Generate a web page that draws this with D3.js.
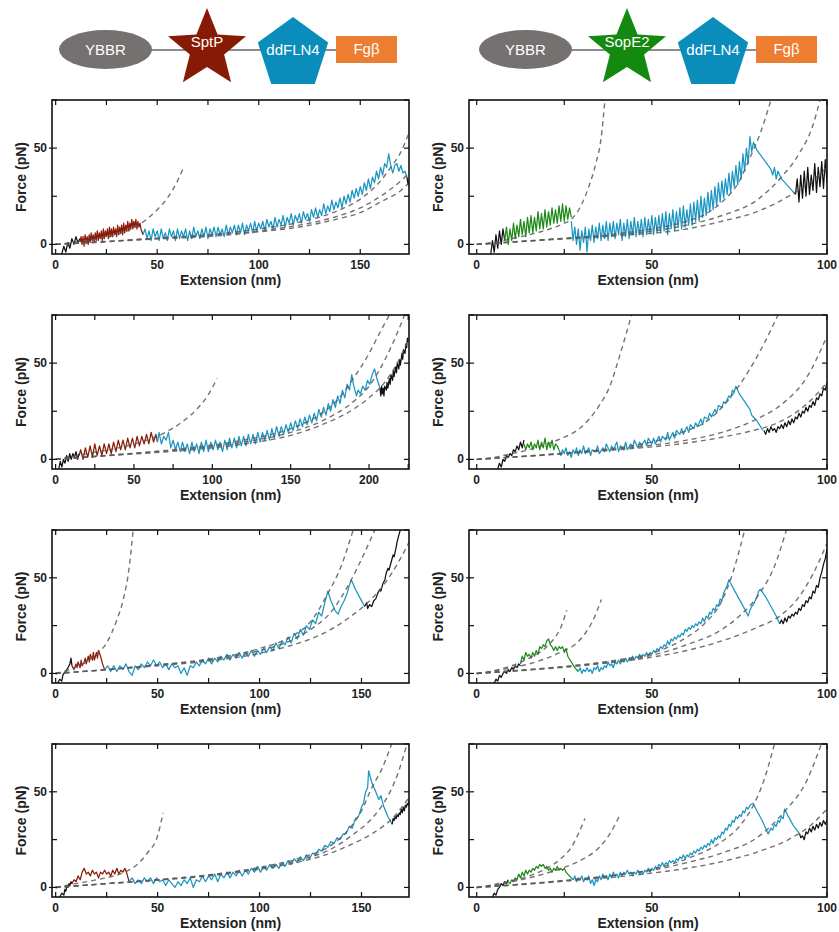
<!DOCTYPE html>
<html>
<head>
<meta charset="utf-8">
<script src="https://cdn.jsdelivr.net/npm/d3@7"></script>
<style>
  body { margin: 0; background: #fff; }
  svg { display: block; font-family: "Liberation Sans", Arial, sans-serif; }
</style>
</head>
<body>
<div id="chart"></div>
<script>
// ---- tick labels ----
const xTicksNarrow = [0, 50, 100, 150];
const xTicksWide = [0, 50, 100, 150, 200];
const xTicksRight = [0, 50, 100];
const yTickLabels = [0, 50];

// ---- construct labels ----
const constructLeft = ['YBBR', 'SptP', 'ddFLN4', 'Fg\u03b2'];
const constructRight = ['YBBR', 'SopE2', 'ddFLN4', 'Fg\u03b2'];

// ================= SptP, row 1 =================
const a1Black = [[3,-5],[4,-1],[5,-4],[6,1],[7,-2],[8,3],[9,0],[10,4],[11,1],[12,3]];
const a1Red = [[12,1],[12.5,4],[13,0],[13.5,4],[14,-1],[14.5,5],[15,1],[15.5,4],[16,0],[16.5,5],[17,1],[17.5,6],[18,2],[18.5,5],[19,1],[19.5,6],[20,2],[20.5,7],[21,2],[21.5,6],[22,3],[22.5,7],[23,2],[23.5,8],[24,3],[24.5,7],[25,4],[25.5,8],[26,3],[26.5,9],[27,4],[27.5,8],[28,4],[28.5,9],[29,5],[29.5,8],[30,4],[30.5,10],[31,5],[31.5,9],[32,6],[32.5,10],[33,5],[33.5,11],[34,6],[34.5,10],[35,7],[35.5,12],[36,7],[36.5,11],[37,8],[37.5,13],[38,8],[38.5,12],[39,9],[39.5,13],[40,8],[40.5,12],[41,9],[41.5,11],[42,8],[43,5]];
const a1Blue = [[43,5],[44,8],[45,3],[46,7],[47,2],[48,8],[49,4],[50,7],[51,2],[52,8],[53,3],[54,6],[55,2],[56,8],[57,4],[58,7],[59,2],[60,8],[61,3],[62,7],[63,4],[64,8],[65,2],[66,7],[67,3],[68,9],[69,4],[70,7],[71,3],[72,8],[73,4],[74,9],[75,3],[76,8],[77,5],[78,9],[79,4],[80,9],[81,5],[82,8],[83,4],[84,10],[85,5],[86,9],[87,6],[88,10],[89,5],[90,10],[91,6],[92,11],[93,5],[94,10],[95,7],[96,11],[97,6],[98,12],[99,7],[100,11],[101,8],[102,12],[103,7],[104,13],[105,9],[106,12],[107,8],[108,14],[109,9],[110,13],[111,10],[112,15],[113,9],[114,14],[115,11],[116,16],[117,10],[118,15],[119,12],[120,16],[121,11],[122,17],[123,13],[124,16],[125,12],[126,18],[127,14],[128,19],[129,14],[130,18],[131,15],[132,21],[133,16],[134,20],[135,17],[136,23],[137,18],[138,22],[139,19],[140,24],[141,19],[142,25],[143,21],[144,26],[145,22],[146,28],[147,24],[148,29],[149,25],[150,30],[151,26],[152,32],[153,28],[154,34],[155,29],[156,35],[157,32],[158,38],[159,34],[160,40],[161,36],[162,42],[163,40],[164,47],[165,41],[166,37],[167,41],[168,42],[169,38],[170,41],[171,37],[172,38],[173,35]];
const a1Tail = [[173,35],[173.5,31],[174,33]];
const a1Fits = [
  [[0,0],[10,1.2],[20,2.8],[30,5],[40,9.5],[50,18],[55,24],[60,33],[63,40]],
  [[0,0],[20,1],[40,2.5],[60,4],[80,5.5],[100,8],[120,11.5],[140,18],[150,23.5],[160,33],[165,40],[170,48],[174,58]],
  [[0,0],[40,2.5],[80,5],[100,7],[120,10],[140,15],[150,19],[160,25],[170,33],[174,37]],
  [[0,0],[40,2.3],[80,4.5],[100,6.5],[120,9],[140,13.5],[150,16.5],[160,22],[170,28],[174,32]]
];

// ================= SptP, row 2 =================
const a2Black = [[2,-5],[3,-1],[4,-4],[5,0],[6,-2],[7,2],[8,-1],[9,3],[10,0],[11,3],[12,1],[13,4],[14,0],[15,3]];
const a2Red = [[15,2],[16,5],[17.5,0],[19,6],[20.5,1],[22,7],[23.5,1],[25,8],[26.5,2],[28,7],[29.5,2],[31,8],[32.5,3],[34,8],[35.5,3],[37,9],[38.5,4],[40,10],[41.5,5],[43,10],[44.5,5],[46,11],[47.5,6],[49,11],[50.5,6],[52,12],[53.5,7],[55,12],[56.5,8],[58,13],[59.5,8],[61,14],[62.5,9],[64,13],[65,9]];
const a2Blue = [[65,9],[66,14],[67.5,8],[69,12],[70.5,10],[72,14],[73.5,6],[75,10],[76.5,5],[78,9],[79.5,4],[81,9],[82.5,4],[84,8],[85.5,3],[87,9],[88.5,4],[90,8],[91.5,3],[93,9],[94.5,4],[96,10],[97.5,4],[99,9],[100.5,5],[102,10],[103.5,5],[105,9],[106.5,4],[108,10],[109.5,5],[111,11],[112.5,6],[114,11],[115.5,6],[117,12],[118.5,7],[120,12],[121.5,7],[123,13],[124.5,8],[126,13],[127.5,8],[129,14],[130.5,9],[132,14],[133.5,10],[135,15],[136.5,10],[138,16],[139.5,11],[141,17],[142.5,12],[144,17],[145.5,13],[147,18],[148.5,14],[150,19],[151.5,15],[153,20],[154.5,16],[156,21],[157.5,17],[159,22],[160.5,18],[162,23],[163.5,19],[165,24],[166.5,20],[168,26],[169.5,22],[171,27],[172.5,23],[174,29],[175.5,25],[177,31],[178.5,27],[180,33],[181.5,29],[183,36],[184.5,32],[186,39],[187.5,36],[189,44],[190,39],[192,33],[193,36],[194.5,34],[196,38],[197.5,36],[199,41],[200.5,39],[202,44],[203.5,47],[205,42],[207,37]];
const a2Tail = [[207,37],[207.5,33],[208,38],[208.5,34],[209,37],[209.5,33],[210,38],[211,36],[211.5,40],[212,37],[213,42],[213.5,39],[214,44],[215,41],[215.5,46],[216,43],[217,48],[217.5,45],[218,50],[219,47],[219.5,52],[220,49],[221,55],[221.5,52],[222,57],[223,55],[223.5,60],[224,58],[224.5,63],[225,61]];
const a2Fits = [
  [[0,0],[20,3],[40,6],[60,10.5],[70,14],[80,19],[90,26],[97,33],[103,42]],
  [[0,0],[40,2.5],[80,5.5],[120,10],[150,16],[170,24],[180,31],[190,42],[200,55],[207,66],[213,75]],
  [[0,0],[40,2.5],[80,5],[120,9],[150,14],[170,20],[190,30],[200,38],[207,47],[215,60],[222.7,75]],
  [[0,0],[40,2.3],[80,4.5],[120,8],[150,12.5],[170,18],[190,26],[200,32],[210,40],[218,50],[225,62]]
];

// ================= SptP, row 3 =================
const a3Black = [[1,-5],[2,-3],[3,-4],[3.5,-1],[4,0],[5,1],[6,3],[7,5],[7.5,8],[8,4]];
const a3Red = [[8,4],[9,2],[10,5],[10.5,3],[11,6],[12,3],[12.5,7],[13,4],[14,6],[14.5,8],[15,5],[16,9],[16.5,6],[17,10],[18,7],[18.5,11],[19,7],[20,11],[20.5,8],[21,12],[22,9],[23,5],[24,2]];
const a3Blue = [[24,2],[25.5,4],[27,1],[28.5,4],[30,1],[31.5,4],[33,2],[34.5,5],[36,1],[37.5,-1],[39,4],[40.5,2],[42,5],[43.5,3],[45,6],[46.5,4],[48,7],[49.5,4],[51,6],[52.5,3],[54,5],[55.5,2],[57,5],[58.5,3],[60,4],[61.5,0],[63,3],[64.5,-1],[66,4],[67.5,3],[69,6],[70.5,4],[72,7],[73.5,5],[75,8],[76.5,5],[78,8],[79.5,6],[81,9],[82.5,7],[84,10],[85.5,7],[87,10],[88.5,8],[90,11],[91.5,8],[93,11],[94.5,9],[96,12],[97.5,9],[99,12],[100.5,10],[102,13],[103.5,11],[105,14],[106.5,12],[108,16],[109.5,13],[111,17],[112.5,15],[114,19],[115.5,16],[117,21],[118.5,18],[120,23],[121.5,20],[123,25],[124.5,23],[126,28],[127.5,26],[129,32],[130.5,30],[132,37],[133.5,43],[135,38],[137,33],[138.5,31],[140,35],[141.5,38],[143,42],[144,46],[145,49],[147,44],[149.5,39],[151.5,35]];
const a3Tail = [[151.5,35],[152.5,37],[153,34],[154,36],[155,35],[156,38],[157,39],[158,42],[159,44],[159.5,43],[160.5,47],[161.5,49],[162,52],[163,55],[163.5,54],[164.5,58],[165.5,62],[166,61],[167,66],[167.5,69],[168,71],[168.5,73],[169,75]];
const a3Fits = [
  [[0,0],[5,1.5],[10,3.5],[15,6],[20,10],[25,16],[30,28],[33,38],[36,55],[38,75]],
  [[0,0],[25,2],[50,4.5],[75,7.5],[100,13],[115,19],[125,27],[133.6,42],[140,56],[145.9,75]],
  [[0,0],[25,2],[50,4.5],[75,7],[100,12],[115,17],[125,23],[135,32],[145,49],[151,62],[156.5,75]],
  [[0,0],[25,2],[50,4],[75,6.5],[100,10.5],[115,14.5],[125,18],[135,23],[145,30],[152,36],[160,45],[168,58],[174,70]]
];

// ================= SptP, row 4 =================
const a4Black = [[2,-5],[3,-3],[4,-4],[4.5,-1],[5,-2],[5.5,1],[6,0],[6.5,2],[7,1],[7.5,3],[8,2]];
const a4Red = [[8,2],[9,4],[10,3],[11,6],[12,4],[13,8],[14,10],[15,7],[16,8],[17,6],[18,9],[19,7],[20,8],[21,5],[22,8],[23,7],[24,9],[25,7],[26,8],[27,6],[28,9],[29,7],[30,10],[31,7],[32,9],[33,8],[34,10],[35,7],[36,3]];
const a4Blue = [[36,3],[37.5,5],[39,2],[40.5,4],[42,2],[43.5,5],[45,3],[46.5,5],[48,2],[49.5,5],[51,3],[52.5,4],[54,1],[55.5,4],[57,2],[58.5,0],[60,3],[61.5,1],[63,4],[64.5,2],[66,5],[67.5,0],[69,4],[70.5,3],[72,6],[73.5,3],[75,6],[76.5,4],[78,7],[79.5,3],[81,7],[82.5,5],[84,8],[85.5,5],[87,8],[88.5,6],[90,9],[91.5,6],[93,9],[94.5,7],[96,10],[97.5,8],[99,11],[100.5,8],[102,11],[103.5,9],[105,12],[106.5,10],[108,12],[109.5,10],[111,13],[112.5,11],[114,14],[115.5,12],[117,15],[118.5,13],[120,16],[121.5,14],[123,17],[124.5,15],[126,18],[127.5,17],[129,20],[130.5,19],[132,22],[133.5,21],[135,24],[136.5,23],[138,26],[139.5,25],[141,28],[142.5,28],[144,32],[145.5,31],[147,36],[148.5,37],[150,42],[151,44],[152,50],[153,52],[153.5,61],[155,55],[157,50],[158.5,46],[159.5,48],[161,42],[163,37],[165,33]];
const a4Tail = [[165,33],[165.5,36],[166,35],[166.5,37],[167,36],[167.5,38],[168,37],[168.5,39],[169,38],[169.5,41],[170,39],[170.5,42],[171,40],[171.5,43],[172,42],[172.5,44],[173,43],[173.5,46],[174,45]];
const a4Fits = [
  [[0,0],[10,2],[20,4],[30,6.5],[35,8.5],[40,12],[45,18],[50,27],[52.7,39]],
  [[0,0],[25,2],[50,4],[75,6.5],[100,10.5],[120,15.5],[135,22],[145,32],[150,40],[155,52],[160,62],[164.8,75]],
  [[0,0],[25,2],[50,4],[75,6.5],[100,10],[120,14.5],[135,20],[145,27],[155,36],[162,46],[168,60],[172.3,75]],
  [[0,0],[25,2],[50,3.8],[75,6],[100,9.5],[120,13.5],[135,18],[145,22.5],[155,28],[165,36],[174,48]]
];

// ================= SopE2, row 1 =================
const b1Black = [[4,-5],[4.5,2],[5,-4],[5.5,5],[6,-2],[6.5,7],[7,0],[7.5,8],[8,2]];
const b1Green = [[8,2],[8.5,9],[9,0],[9.5,8],[10,2],[10.5,11],[11,3],[11.5,10],[12,4],[12.5,13],[13,5],[13.5,12],[14,4],[14.5,14],[15,6],[15.5,15],[16,6],[16.5,14],[17,7],[17.5,17],[18,8],[18.5,16],[19,8],[19.5,18],[20,9],[20.5,17],[21,10],[21.5,19],[22,11],[22.5,18],[23,11],[23.5,20],[24,12],[24.5,21],[25,12],[25.5,20],[26,13],[26.5,19],[27,14]];
const b1Blue = [[27,12],[27.5,2],[28,9],[28.5,0],[29,8],[29.5,-3],[30,7],[30.5,1],[31,9],[31.5,-4],[32,8],[32.5,2],[33,10],[33.5,1],[34,9],[34.5,3],[35,11],[35.5,2],[36,10],[36.5,3],[37,12],[37.5,2],[38,11],[38.5,4],[39,12],[39.5,3],[40,11],[40.5,5],[41,13],[41.5,2],[42,11],[42.5,4],[43,13],[43.5,3],[44,12],[44.5,5],[45,14],[45.5,4],[46,12],[46.5,5],[47,13],[47.5,4],[48,14],[48.5,5],[49,13],[49.5,6],[50,15],[50.5,5],[51,14],[51.5,6],[52,15],[52.5,6],[53,16],[53.5,7],[54,17],[54.5,5],[55,16],[55.5,8],[56,18],[56.5,7],[57,17],[57.5,9],[58,19],[58.5,8],[59,20],[59.5,9],[60,18],[60.5,10],[61,21],[61.5,10],[62,22],[62.5,12],[63,23],[63.5,12],[64,25],[64.5,14],[65,24],[65.5,15],[66,27],[66.5,17],[67,28],[67.5,18],[68,30],[68.5,20],[69,32],[69.5,22],[70,33],[70.5,24],[71,34],[71.5,26],[72,37],[72.5,27],[73,38],[73.5,30],[74,41],[74.5,31],[75,43],[75.5,34],[76,47],[76.5,38],[77,50],[77.5,42],[78,56],[78.5,48],[79,53],[80,49],[82,44],[84,39],[84.5,36],[85,40],[85.5,34],[86,38],[87,34],[89,30],[91,26]];
const b1Tail = [[91,26],[91.5,34],[92,22],[92.5,36],[93,24],[93.5,38],[94,25],[94.5,40],[95,26],[95.5,36],[96,28],[96.5,42],[97,27],[97.5,40],[98,30],[98.5,43],[99,29],[99.5,44],[100,32]];
const b1Fits = [
  [[0,0],[5,1],[10,3],[15,5],[20,7.5],[25,11],[27,13],[30,21],[32,30],[34,42],[35.5,55],[36.6,75]],
  [[0,0],[20,2.5],[40,5.5],[50,8],[60,12],[65,15.5],[70,22],[75,33],[78,45],[81,58],[84,75]],
  [[0,0],[20,2.5],[40,5],[60,10],[70,15],[80,23],[87,35],[92,47],[96,62],[98,75]],
  [[0,0],[20,2.3],[40,4.5],[60,8],[70,12],[80,17],[90,26],[95,32],[100,40]]
];

// ================= SopE2, row 2 =================
const b2Black = [[6,-5],[6.5,-2],[7,-4],[7.5,0],[8,-1],[8.5,2],[9,1],[9.5,3],[10,2],[10.5,5],[11,4],[11.5,7],[12,5],[12.5,9],[13,6],[13.5,10]];
const b2Green = [[13.5,8],[14,5],[14.5,8],[15,6],[15.5,9],[16,5],[16.5,8],[17,6],[17.5,10],[18,5],[18.5,9],[19,6],[19.5,11],[20,5],[20.5,9],[21,6],[21.5,10],[22,5],[22.5,8],[23,7],[23.5,5]];
const b2Blue = [[23.5,5],[24,2],[24.5,5],[25,3],[25.5,6],[26,2],[26.5,4],[27,1],[27.5,5],[28,3],[28.5,6],[29,2],[29.5,5],[30,3],[30.5,7],[31,3],[32,6],[32.5,2],[33,5],[34,4],[34.5,7],[35,3],[36,6],[36.5,4],[37,8],[38,4],[38.5,7],[39,5],[40,9],[40.5,4],[41,7],[42,5],[42.5,9],[43,5],[44,8],[44.5,6],[45,10],[46,6],[46.5,9],[47,7],[48,10],[48.5,7],[49,11],[50,8],[50.5,11],[51,8],[52,12],[52.5,9],[53,12],[54,10],[54.5,14],[55,10],[56,14],[56.5,11],[57,15],[58,13],[58.5,16],[59,13],[60,17],[60.5,14],[61,18],[62,16],[62.5,19],[63,17],[64,21],[64.5,18],[65,22],[66,21],[66.5,24],[67,22],[68,26],[68.5,24],[69,28],[70,27],[70.5,30],[71,29],[72,33],[72.5,32],[73,36],[73.5,35],[74,38],[75,34],[76.5,30],[78,26],[78.5,23],[79,22],[80,20],[81.7,15]];
const b2Tail = [[82,15],[82.5,13],[83,16],[83.5,14],[84,17],[84.5,15],[85,16],[85.5,14],[86,17],[86.5,16],[87,18],[87.5,16],[88,19],[88.5,17],[89,20],[89.5,18],[90,21],[90.5,19],[91,22],[91.5,21],[92,24],[92.5,22],[93,25],[93.5,24],[94,27],[94.5,25],[95,28],[95.5,27],[96,30],[96.5,28],[97,32],[97.5,31],[98,34],[98.5,33],[99,37],[99.5,36],[100,40]];
const b2Fits = [
  [[0,0],[5,1],[10,3],[15,5],[20,8],[25,11.5],[30,17],[35,28],[38,38],[41,55],[44.2,75]],
  [[0,0],[20,2.5],[40,6],[50,9],[60,15],[65,19],[70,27],[74,36],[78,47],[82,60],[86,75]],
  [[0,0],[20,2.5],[40,5.5],[60,10],[70,14],[80,21],[88,30],[94,42],[100,64]],
  [[0,0],[20,2.3],[40,5],[60,8.5],[70,11.5],[80,15.5],[83,17],[90,23],[95,30],[100,40]]
];

// ================= SopE2, row 3 =================
const b3Black = [[5,-5],[5.5,-3],[6,-4],[6.5,-1],[7,-2],[7.5,0],[8,1],[8.5,0],[9,2],[9.5,1],[10,3],[10.5,2],[11,4],[11.5,3],[12,5],[12.5,4]];
const b3Green = [[12.5,5],[13,9],[13.5,7],[14,11],[14.5,9],[15,10],[15.5,8],[16,11],[16.5,9],[17,12],[17.5,10],[18,14],[18.5,13],[19,15],[19.5,14],[20,17],[20.5,18],[21,15],[21.5,14],[22,12],[22.5,14],[23,12],[23.5,14],[24,13],[24.5,14],[25,11],[25.5,13],[26,9],[27,6],[28,3],[29,1]];
const b3Blue = [[29,1],[29.5,3],[30,0],[30.5,2],[31,1],[31.5,3],[32,1],[32.5,2],[33,0],[33.5,3],[34,2],[34.5,4],[35,1],[35.5,3],[36,2],[36.5,4],[37,3],[37.5,6],[38,4],[38.5,5],[39,3],[39.5,6],[40,5],[40.5,7],[41,5],[41.5,7],[42,6],[42.5,8],[43,6],[43.5,8],[44,7],[44.5,9],[45,7],[45.5,9],[46,8],[46.5,10],[47,8],[47.5,10],[48,9],[48.5,11],[49,9],[49.5,11],[50,10],[50.5,12],[51,11],[51.5,13],[52,12],[52.5,14],[53,13],[53.5,15],[54,14],[54.5,17],[55,15],[55.5,18],[56,17],[56.5,19],[57,18],[57.5,20],[58,19],[58.5,21],[59,20],[59.5,23],[60,22],[60.5,24],[61,23],[61.5,25],[62,24],[62.5,26],[63,25],[63.5,27],[64,26],[64.5,29],[65,27],[65.5,30],[66,29],[66.5,32],[67,31],[67.5,34],[68,33],[68.5,36],[69,35],[69.5,39],[70,38],[70.5,42],[71,44],[71.5,46],[72,49],[72.5,47],[74,42],[75.5,37],[77,32],[77.5,30],[78,33],[78.5,35],[79,36],[79.5,38],[80,40],[80.5,43],[81,44],[82.5,40],[84,35],[85.5,30],[86.5,26]];
const b3Tail = [[86.5,26],[87,28],[87.5,26],[88,29],[88.5,27],[89,30],[89.5,29],[90,31],[90.5,30],[91,32],[91.5,31],[92,34],[92.5,33],[93,36],[93.5,35],[94,38],[94.5,37],[95,40],[95.5,39],[96,43],[96.5,42],[97,46],[97.5,45],[98,50],[98.5,53],[99,57],[99.5,60],[100,65]];
const b3Fits = [
  [[0,0],[5,1.5],[10,4],[15,8],[18,11],[20,14],[22,18],[24,24],[25.7,33]],
  [[0,0],[5,1.2],[10,3],[15,5],[20,8],[25,12],[28,15],[31,21],[33,27],[35.6,38.7]],
  [[0,0],[15,2],[30,4.5],[40,7],[50,10.5],[55,14],[60,19],[65,26],[70,38],[73,52],[76.5,75]],
  [[0,0],[15,2],[30,4.5],[40,6.5],[50,9.5],[60,15],[70,23],[75,30],[80.8,42],[85,56],[88.4,75]],
  [[0,0],[15,1.8],[30,4],[40,6],[50,8.5],[60,12],[70,17],[80,24],[86.5,30],[92,40],[96,52],[100,68]]
];

// ================= SopE2, row 4 =================
const b4Black = [[4.5,-5],[5,-3],[5.5,-4],[6,-1],[6.5,0],[7,2],[7.5,1],[8,3],[8.5,2],[9,4]];
const b4Green = [[9,3],[9.5,2],[10,4],[10.5,3],[11,5],[11.5,4],[12,7],[12.5,5],[13,8],[13.5,6],[14,9],[14.5,7],[15,9],[15.5,8],[16,10],[16.5,9],[17,11],[17.5,10],[18,12],[18.5,11],[19,12],[19.5,10],[20,11],[20.5,9],[21,10],[21.5,8],[22,10],[22.5,9],[23,11],[23.5,9],[24,10],[24.5,9],[25,10],[25.5,8],[26,7],[27,5],[27.6,4]];
const b4Blue = [[27.6,4],[28,6],[28.5,3],[29,5],[29.5,4],[30,6],[30.5,3],[31,5],[31.5,4],[32,6],[32.5,2],[33,4],[33.5,1],[34,4],[34.5,3],[35,6],[35.5,4],[36,7],[36.5,5],[37,6],[37.5,4],[38,7],[38.5,5],[39,8],[39.5,6],[40,7],[40.5,5],[41,8],[41.5,6],[42,8],[42.5,7],[43,9],[43.5,7],[44,8],[44.5,6],[45,8],[45.5,7],[46,9],[46.5,7],[47,8],[47.5,7],[48,9],[48.5,8],[49,10],[49.5,8],[50,10],[50.5,9],[51,11],[51.5,10],[52,12],[52.5,11],[53,13],[53.5,11],[54,13],[54.5,12],[55,14],[55.5,13],[56,14],[56.5,13],[57,15],[57.5,14],[58,16],[58.5,15],[59,17],[59.5,15],[60,17],[60.5,16],[61,18],[61.5,17],[62,19],[62.5,18],[63,20],[63.5,19],[64,21],[64.5,20],[65,22],[65.5,21],[66,23],[66.5,22],[67,25],[67.5,23],[68,26],[68.5,25],[69,27],[69.5,26],[70,29],[70.5,28],[71,31],[71.5,30],[72,33],[72.5,32],[73,35],[73.5,34],[74,37],[74.5,36],[75,38],[75.5,37],[76,40],[76.5,39],[77,42],[77.5,41],[78,43],[78.9,44],[80,40],[81.5,35],[83.2,28],[84,31],[84.5,30],[85,33],[85.5,32],[86,35],[86.5,34],[87,37],[87.5,36],[87.9,41],[89,37],[90.5,32],[92.2,28]];
const b4Tail = [[92.2,28],[92.5,26],[93,27],[93.5,25],[94,29],[94.5,28],[95,31],[95.5,29],[96,32],[96.5,30],[97,33],[97.5,31],[98,34],[98.5,32],[99,35],[99.5,33],[100,35]];
const b4Fits = [
  [[0,0],[5,1.5],[10,3.5],[15,6],[20,10],[24,15],[27,21],[29,28],[30.9,36]],
  [[0,0],[5,1.2],[10,3],[15,5],[20,7.5],[25,10.5],[30,14.5],[35,21],[38,28],[40.9,38]],
  [[0,0],[15,2],[30,4.5],[40,6.5],[50,9.5],[60,15],[70,24],[75,32],[79,43],[82,56],[85,75]],
  [[0,0],[15,2],[30,4.5],[40,6.5],[50,9],[60,13],[70,18],[80,26],[88,40],[94,55],[98.4,75]],
  [[0,0],[15,1.8],[30,4],[40,5.5],[50,7.5],[60,10],[70,13.5],[80,18.5],[90,26],[95,32],[100,41]]
];

// ---------------- drawing ----------------
const colors = {
  black: '#111111',
  red: '#8b1a08',
  green: '#1d8a17',
  blue: '#1b96c3',
  fit: '#5a5a5a'
};

const width = 839, height = 932;
const svg = d3.select('#chart').append('svg')
  .attr('width', width)
  .attr('height', height);

const leftX = [52, 409];
const rightX = [469, 827];
const rowY = [[100, 254], [315, 469], [530, 683], [744, 897]];

const panels = [
  { id: 'a1', xr: leftX, yr: rowY[0], dom: [-1.8, 174], ticks: xTicksNarrow, mid: a1Red, midColor: colors.red, head: a1Black, blue: a1Blue, tail: a1Tail, fits: a1Fits },
  { id: 'a2', xr: leftX, yr: rowY[1], dom: [-2.3, 225.5], ticks: xTicksWide, mid: a2Red, midColor: colors.red, head: a2Black, blue: a2Blue, tail: a2Tail, fits: a2Fits },
  { id: 'a3', xr: leftX, yr: rowY[2], dom: [-1.8, 173.3], ticks: xTicksNarrow, mid: a3Red, midColor: colors.red, head: a3Black, blue: a3Blue, tail: a3Tail, fits: a3Fits },
  { id: 'a4', xr: leftX, yr: rowY[3], dom: [-1.8, 173.3], ticks: xTicksNarrow, mid: a4Red, midColor: colors.red, head: a4Black, blue: a4Blue, tail: a4Tail, fits: a4Fits },
  { id: 'b1', xr: rightX, yr: rowY[0], dom: [-2.2, 100], ticks: xTicksRight, mid: b1Green, midColor: colors.green, head: b1Black, blue: b1Blue, tail: b1Tail, fits: b1Fits },
  { id: 'b2', xr: rightX, yr: rowY[1], dom: [-2.2, 100], ticks: xTicksRight, mid: b2Green, midColor: colors.green, head: b2Black, blue: b2Blue, tail: b2Tail, fits: b2Fits },
  { id: 'b3', xr: rightX, yr: rowY[2], dom: [-2.2, 100], ticks: xTicksRight, mid: b3Green, midColor: colors.green, head: b3Black, blue: b3Blue, tail: b3Tail, fits: b3Fits },
  { id: 'b4', xr: rightX, yr: rowY[3], dom: [-2.2, 100], ticks: xTicksRight, mid: b4Green, midColor: colors.green, head: b4Black, blue: b4Blue, tail: b4Tail, fits: b4Fits }
];

function drawPanel(p) {
  const x = d3.scaleLinear().domain(p.dom).range(p.xr);
  const y = d3.scaleLinear().domain([-5, 75]).range([p.yr[1], p.yr[0]]);
  const g = svg.append('g').attr('class', 'panel ' + p.id);

  g.append('clipPath').attr('id', 'clip-' + p.id)
    .append('rect')
    .attr('x', p.xr[0]).attr('y', p.yr[0])
    .attr('width', p.xr[1] - p.xr[0]).attr('height', p.yr[1] - p.yr[0]);

  const plot = g.append('g').attr('clip-path', `url(#clip-${p.id})`);

  const trace = d3.line().x(d => x(d[0])).y(d => y(d[1]));
  const smooth = d3.line().x(d => x(d[0])).y(d => y(d[1])).curve(d3.curveMonotoneX);

  // force traces
  [[p.head, colors.black], [p.mid, p.midColor], [p.blue, colors.blue], [p.tail, colors.black]]
    .forEach(([pts, c]) => {
      plot.append('path')
        .attr('d', trace(pts))
        .attr('fill', 'none')
        .attr('stroke', c)
        .attr('stroke-width', 1.25)
        .attr('stroke-linejoin', 'round');
    });

  // WLC fits (dashed, drawn over the data)
  p.fits.forEach(f => {
    plot.append('path')
      .attr('d', smooth(f))
      .attr('fill', 'none')
      .attr('stroke', colors.fit)
      .attr('stroke-opacity', 0.85)
      .attr('stroke-width', 1.4)
      .attr('stroke-dasharray', '5,4');
  });

  // frame
  g.append('rect')
    .attr('x', p.xr[0]).attr('y', p.yr[0])
    .attr('width', p.xr[1] - p.xr[0]).attr('height', p.yr[1] - p.yr[0])
    .attr('fill', 'none').attr('stroke', '#111').attr('stroke-width', 1.6);

  // ticks: every 25 on both axes, mirrored on all sides
  const xTickVals = d3.range(0, p.dom[1] + 0.01, 25);
  const yTickVals = [0, 25, 50, 75];
  const tk = g.append('g').attr('stroke', '#111').attr('stroke-width', 1.2);
  xTickVals.forEach(v => {
    const xx = x(v);
    tk.append('line').attr('x1', xx).attr('x2', xx).attr('y1', p.yr[1]).attr('y2', p.yr[1] - 5);
    tk.append('line').attr('x1', xx).attr('x2', xx).attr('y1', p.yr[0]).attr('y2', p.yr[0] + 5);
  });
  yTickVals.forEach(v => {
    const yy = y(v);
    tk.append('line').attr('x1', p.xr[0]).attr('x2', p.xr[0] + 5).attr('y1', yy).attr('y2', yy);
    tk.append('line').attr('x1', p.xr[1]).attr('x2', p.xr[1] - 5).attr('y1', yy).attr('y2', yy);
  });
  yTickLabels.forEach(v => {
    tk.append('line').attr('x1', p.xr[0] - 3).attr('x2', p.xr[0]).attr('y1', y(v)).attr('y2', y(v));
  });

  // tick labels
  g.selectAll('.xl').data(p.ticks).enter().append('text')
    .attr('x', d => x(d))
    .attr('y', p.yr[1] + 15)
    .attr('text-anchor', 'middle')
    .style('font-size', '12px').style('font-weight', 'bold').style('fill', '#222')
    .text(d => d);
  g.selectAll('.yl').data(yTickLabels).enter().append('text')
    .attr('x', p.xr[0] - 5)
    .attr('y', d => y(d) + 4)
    .attr('text-anchor', 'end')
    .style('font-size', '12px').style('font-weight', 'bold').style('fill', '#222')
    .text(d => d);

  // axis titles
  g.append('text')
    .attr('x', (p.xr[0] + p.xr[1]) / 2)
    .attr('y', p.yr[1] + 31)
    .attr('text-anchor', 'middle')
    .style('font-size', '14px').style('font-weight', 'bold').style('fill', '#222')
    .text('Extension (nm)');
  const cy = (p.yr[0] + p.yr[1]) / 2;
  g.append('text')
    .attr('transform', `translate(${p.xr[0] - 26},${cy}) rotate(-90)`)
    .attr('text-anchor', 'middle')
    .style('font-size', '14px').style('font-weight', 'bold').style('fill', '#222')
    .text('Force (pN)');
}

panels.forEach(drawPanel);

// ---------------- construct cartoons ----------------
function starPath(cx, cy, R, r) {
  const pts = [];
  for (let i = 0; i < 10; i++) {
    const a = -Math.PI / 2 + i * Math.PI / 5;
    const rad = i % 2 === 0 ? R : r;
    pts.push([cx + rad * Math.cos(a), cy + rad * Math.sin(a)]);
  }
  return 'M' + pts.join('L') + 'Z';
}
function pentagonPath(cx, cy, R) {
  const pts = [];
  for (let i = 0; i < 5; i++) {
    const a = -Math.PI / 2 + i * 2 * Math.PI / 5;
    pts.push([cx + R * Math.cos(a), cy + R * Math.sin(a)]);
  }
  return 'M' + pts.join('L') + 'Z';
}

function drawConstruct(dx, labels, starColor) {
  const g = svg.append('g').attr('transform', `translate(${dx},0)`);
  g.append('line').attr('x1', 150).attr('x2', 338).attr('y1', 50).attr('y2', 50)
    .attr('stroke', '#666').attr('stroke-width', 1.5);
  g.append('ellipse').attr('cx', 105.5).attr('cy', 49.5).attr('rx', 46.5).attr('ry', 19.5)
    .attr('fill', '#767171');
  g.append('path').attr('d', starPath(207, 49, 41, 18)).attr('fill', starColor);
  g.append('path').attr('d', pentagonPath(293, 54, 37)).attr('fill', '#0b8dbb');
  g.append('rect').attr('x', 336).attr('y', 36).attr('width', 61).attr('height', 27)
    .attr('fill', '#ed7d31');
  const tx = [[105.5, 55], [207, 47], [293, 55], [366.5, 54]];
  labels.forEach((t, i) => {
    g.append('text')
      .attr('x', tx[i][0]).attr('y', tx[i][1])
      .attr('text-anchor', 'middle')
      .style('font-size', '15px')
      .style('fill', '#fff')
      .text(t);
  });
}

drawConstruct(0, constructLeft, '#871a05');
drawConstruct(420, constructRight, '#14890f');
</script>
</body>
</html>
